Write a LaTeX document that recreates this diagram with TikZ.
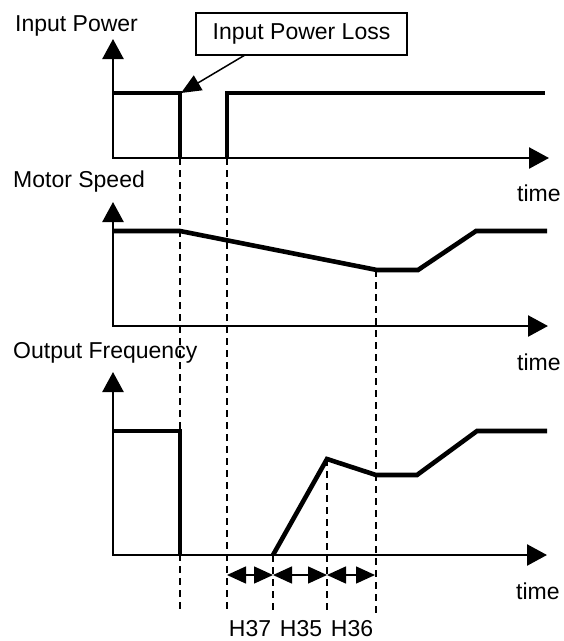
\documentclass[tikz,border=0pt]{standalone}
\usepackage{fontspec}
\setmainfont{Liberation Sans}
\usetikzlibrary{arrows.meta,calc}
\begin{document}
\begin{tikzpicture}[x=1pt,y=-1pt,
  lbl/.style={inner sep=0pt,anchor=base west,font=\fontsize{23}{27}\selectfont},
  hlbl/.style={inner sep=0pt,anchor=base,font=\fontsize{23}{27}\selectfont},
  axisline/.style={line width=2.5pt,{Triangle[length=20pt,width=21pt]}-{Triangle[length=20pt,width=21pt]}},
  signal/.style={line width=4.6pt,line join=miter,line cap=butt},
  guide/.style={line width=1.5pt,dash pattern=on 7pt off 5pt},
  dimarrow/.style={line width=1.5pt,{Triangle[length=19pt,width=17pt]}-{Triangle[length=19pt,width=17pt]}},
  callout/.style={line width=1.5pt,-{Triangle[length=20pt,width=17pt]}}
]
\useasboundingbox (0,0) rectangle (564,641);

% axes
\coordinate (t0) at (113,158); \coordinate (ty) at (113,39); \coordinate (tx) at (549,158);
\coordinate (m0) at (113,326); \coordinate (my) at (113,202); \coordinate (mx) at (548,326);
\coordinate (b0) at (113,555); \coordinate (by) at (113,372); \coordinate (bx) at (547,555);
\draw[axisline] (ty) -- (t0) -- (tx);
\draw[axisline] (my) -- (m0) -- (mx);
\draw[axisline] (by) -- (b0) -- (bx);

% labels
\node[lbl] (lip) at (15,31) {Input Power};
\node[lbl] (lms) at (13,187) {Motor Speed};
\node[lbl] (lof) at (13,358) {Output Frequency};
\node[lbl] (tt) at (517,201) {time};
\node[lbl] (tm) at (517,370) {time};
\node[lbl] (tb) at (516,599) {time};

% input power signal
\draw[signal] (113,93) -- (180,93) -- (180,158);
\draw[signal] (227,158) -- (227,93) -- (545,93);

% motor speed
\draw[signal] (113,231) -- (180,231) -- (377,270) -- (418,270) -- (476,231) -- (547,231);

% output frequency
\draw[signal] (113,431) -- (180,431) -- (180,555);
\draw[signal] (273,555) -- (327,459) -- (376,475) -- (417,475) -- (477,431) -- (547,431);

% guide lines
\coordinate (g1t) at (180,158); \coordinate (g1b) at (180,613);
\coordinate (g2t) at (227,158); \coordinate (g2b) at (227,613);
\coordinate (g3t) at (273,555); \coordinate (g3b) at (273,613);
\coordinate (g4t) at (327,459); \coordinate (g4b) at (327,613);
\coordinate (g5t) at (376,270); \coordinate (g5b) at (376,613);
\draw[guide] (g1t) -- (g1b);
\draw[guide] (g2t) -- (g2b);
\draw[guide] (g3t) -- (g3b);
\draw[guide] (g4t) -- (g4b);
\draw[guide] (g5t) -- (g5b);

% dimension arrows
\coordinate (d1) at (227,575); \coordinate (d2) at (273,575);
\coordinate (d3) at (327,575); \coordinate (d4) at (375,575);
\draw[dimarrow] (d1) -- (d2);
\draw[dimarrow] (d2) -- (d3);
\draw[dimarrow] (d3) -- (d4);
\node[hlbl] (h37) at (250,636) {H37};
\node[hlbl] (h35) at (301,636) {H35};
\node[hlbl] (h36) at (352,636) {H36};

% callout
\node[draw,line width=2pt,minimum width=211pt,minimum height=42pt,inner sep=0pt,
  font=\fontsize{23}{27}\selectfont] (loss) at (301.5,34) {Input Power Loss};
\coordinate (lossfrom) at (245,55);
\coordinate (losstip) at (181,93);
\draw[callout] (lossfrom) -- (losstip);
\end{tikzpicture}
\end{document}
